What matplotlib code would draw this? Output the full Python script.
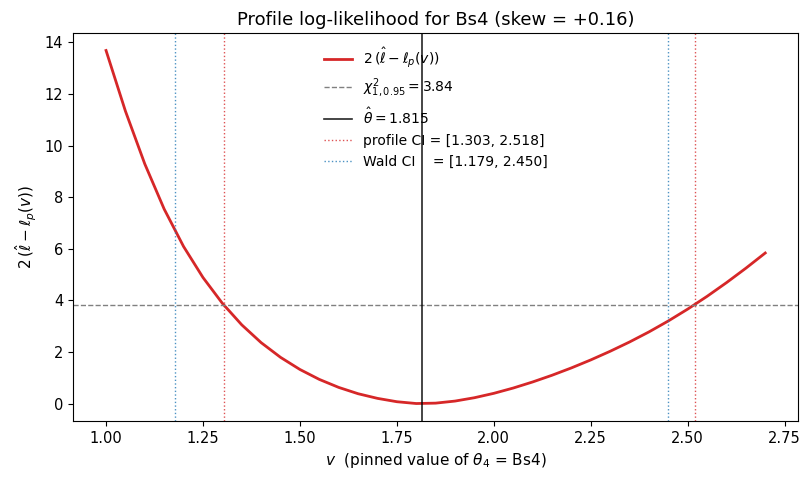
import numpy as np
import matplotlib
matplotlib.use("Agg")
import matplotlib.pyplot as plt

# valores
v = np.array([1.00, 1.05, 1.10, 1.15, 1.20, 1.25, 1.30, 1.35, 1.40, 1.45,
              1.50, 1.55, 1.60, 1.65, 1.70, 1.75, 1.80, 1.85, 1.90, 1.95,
              2.00, 2.05, 2.10, 2.15, 2.20, 2.25, 2.30, 2.35, 2.40, 2.45,
              2.50, 2.55, 2.60, 2.65, 2.70])
dev = np.array([13.69, 11.34, 9.29, 7.54, 6.09, 4.89, 3.89, 3.055, 2.365, 1.795,
                1.325, 0.94, 0.63, 0.385, 0.205, 0.075, 0.005, 0.02, 0.10, 0.23,
                0.40, 0.605, 0.84, 1.10, 1.385, 1.695, 2.03, 2.39, 2.78, 3.205,
                3.665, 4.16, 4.69, 5.25, 5.84])

chi2_crit = 3.84
theta_hat = 1.815
prof_ci = [1.303, 2.518]
wald_ci = [1.179, 2.450]

fig, ax = plt.subplots(figsize=(8.12, 4.83), dpi=100)
fig.subplots_adjust(left=0.09, right=0.983, bottom=0.128, top=0.932)

ax.plot(v, dev, color="#d62728", lw=2, label=r"$2\,(\hat{\ell} - \ell_p(v))$")
ax.axhline(chi2_crit, color="gray", ls="--", lw=1,
           label=r"$\chi^2_{1,0.95} = %.2f$" % chi2_crit)
ax.axvline(theta_hat, color="k", lw=1.2, alpha=0.85,
           label=r"$\hat{\theta} = %.3f$" % theta_hat)
ax.axvline(prof_ci[0], color="#d62728", ls=":", lw=1, alpha=0.8,
           label="profile CI = [%.3f, %.3f]" % (prof_ci[0], prof_ci[1]))
ax.axvline(prof_ci[1], color="#d62728", ls=":", lw=1, alpha=0.8)
ax.axvline(wald_ci[0], color="#1f77b4", ls=":", lw=1, alpha=0.8,
           label="Wald CI    = [%.3f, %.3f]" % (wald_ci[0], wald_ci[1]))
ax.axvline(wald_ci[1], color="#1f77b4", ls=":", lw=1, alpha=0.8)

ax.set_xlabel(r"$v$  (pinned value of $\theta_4$ = Bs4)", fontsize=11)
ax.set_ylabel(r"$2\,(\hat{\ell} - \ell_p(v))$", fontsize=11)
ax.set_title("Profile log-likelihood for Bs4 (skew = +0.16)", fontsize=13)
ax.tick_params(labelsize=10.5)
ax.legend(loc="upper center", frameon=False)

plt.savefig("out.png")
